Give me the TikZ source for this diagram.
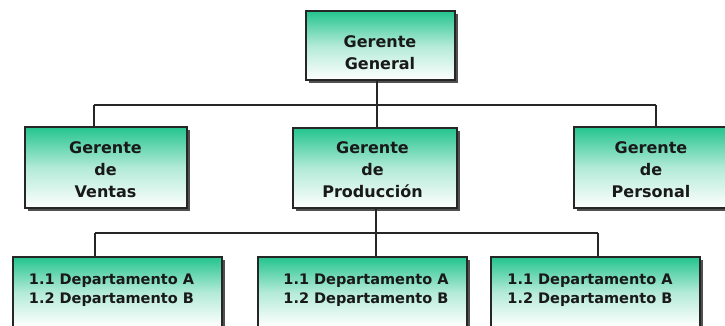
\documentclass[tikz,border=0pt]{standalone}
\usepackage{fontspec}
\setmainfont{DejaVu Sans}
\usetikzlibrary{shadows}
\definecolor{teal1}{RGB}{36,196,142}
\definecolor{shadowgray}{RGB}{80,80,80}
\begin{document}
\begin{tikzpicture}[x=1pt,y=-1pt,
  box/.style={draw=black!85, line width=1.4pt, rectangle,
    top color=teal1, bottom color=white, middle color=teal1!35!white,
    general shadow={fill=shadowgray, shadow xshift=3pt, shadow yshift=-3pt}},
  gtxt/.style={font=\bfseries\fontsize{16}{22}\selectfont, align=center, text=black!90, inner sep=0pt},
  dtxt/.style={font=\bfseries\fontsize{14.5}{19}\selectfont, align=left, text=black!90, inner sep=0pt},
  conn/.style={draw=black!85, line width=1.2pt}]
\clip (0,0) rectangle (725,325);
\fill[white] (0,0) rectangle (725,325);

% boxes
\node[box, minimum width=149pt, minimum height=69pt] (top) at (380.5,45.5) {};
\node[box, minimum width=162pt, minimum height=81pt] (ven) at (106,167.5) {};
\node[box, minimum width=164pt, minimum height=80pt] (pro) at (375,168) {};
\node[box, minimum width=154pt, minimum height=81pt] (per) at (651,167.5) {};
\node[box, minimum width=209pt, minimum height=70pt] (d1) at (117.5,292) {};
\node[box, minimum width=209pt, minimum height=70pt] (d2) at (362.5,292) {};
\node[box, minimum width=209pt, minimum height=70pt] (d3) at (595.5,292) {};

% texts
\node[gtxt] (toptxt) at (380,52.5) {Gerente\\General};
\node[gtxt] (ventxt) at (105.5,170) {Gerente\\de\\Ventas};
\node[gtxt] (protxt) at (372.5,170) {Gerente\\de\\Producción};
\node[gtxt] (pertxt) at (651,170) {Gerente\\de\\Personal};
\node[dtxt] (d1txt) at (111.5,290.5) {1.1 Departamento A\\1.2 Departamento B};
\node[dtxt] (d2txt) at (366,290.5) {1.1 Departamento A\\1.2 Departamento B};
\node[dtxt] (d3txt) at (590,290.5) {1.1 Departamento A\\1.2 Departamento B};

% bus coordinates
\coordinate (b0) at (377,105);
\coordinate (b1) at (94,105);
\coordinate (b3) at (656,105);
\coordinate (c0) at (376,233);
\coordinate (c1) at (95,233);
\coordinate (c3) at (598,233);

% connectors
\draw[conn] (top.south -| b0) -- (b0);
\draw[conn] (b1) -- (b3);
\draw[conn] (b1) -- (ven.north -| b1);
\draw[conn] (b0) -- (pro.north -| b0);
\draw[conn] (b3) -- (per.north -| b3);
\draw[conn] (pro.south -| c0) -- (c0);
\draw[conn] (c1) -- (c3);
\draw[conn] (c1) -- (d1.north -| c1);
\draw[conn] (c0) -- (d2.north -| c0);
\draw[conn] (c3) -- (d3.north -| c3);
\end{tikzpicture}
\end{document}
